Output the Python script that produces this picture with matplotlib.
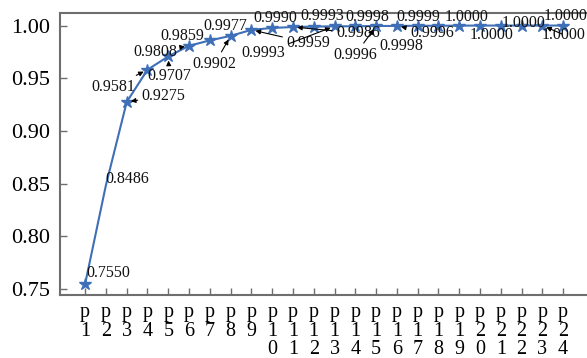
import numpy as np
import matplotlib
matplotlib.use('Agg')
import matplotlib.pyplot as plt

plt.rcParams['font.family'] = 'Liberation Serif'

# series values for p1..p24
categories = ['p%d' % i for i in range(1, 25)]
values = [0.7550, 0.8486, 0.9275, 0.9581, 0.9707, 0.9808, 0.9859, 0.9902,
          0.9959, 0.9977, 0.9986, 0.9990, 0.9993, 0.9993, 0.9996, 0.9996,
          0.9998, 0.9998, 0.9999, 1.0000, 1.0000, 1.0000, 1.0000, 1.0000]
y_ticks = [0.75, 0.80, 0.85, 0.90, 0.95, 1.00]

# where each value label sits relative to its point (pixels), and whether it gets a pointer
label_offsets = [(23, 11), (21, 6), (37, 6), (-34, -17), (1, -20), (-34, -6),
                 (-28, 4), (-16, -28), (57, -13), (-47, 2), (65, -6), (-38, 9),
                 (-71, -27), (-33, 10), (-21, -29), (35, -7), (-50, 9), (-37, -20),
                 (-41, 9), (-13, 9), (-9, -9), (2, 3), (21, -9), (2, 10)]
label_arrows = [0, 0, 1, 1, 1, 1, 0, 1, 1, 0, 1, 0,
                1, 0, 1, 1, 0, 0, 0, 0, 0, 0, 1, 0]

blue = '#3f6fb7'
fig = plt.figure(figsize=(5.87, 3.58), dpi=100)
ax = fig.add_axes([60/587, 1 - 295/358, 526/587, 282/358])

x = np.arange(len(values))
ax.plot(x, values, color=blue, lw=1.5, marker='*', markersize=9,
        markerfacecolor=blue, markeredgecolor=blue,
        markevery=[i for i in range(len(values)) if i != 1])

for i, v in enumerate(values):
    props = None
    if label_arrows[i]:
        props = dict(arrowstyle='-|>', color='black', lw=0.8,
                     mutation_scale=7, shrinkA=1, shrinkB=3)
    ax.annotate('%.4f' % v, xy=(i, v), xytext=label_offsets[i],
                textcoords='offset pixels', ha='center', va='center',
                fontsize=11.5, color='#111111', arrowprops=props)

ax.set_xlim(-1.21, 24.1)
ax.set_ylim(0.7444, 1.0119)
ax.set_yticks(y_ticks)
ax.set_yticklabels(['%.2f' % t for t in y_ticks])
ax.set_xticks(x)
ax.set_xticklabels(['\n'.join(c) for c in categories], linespacing=0.95)

for s in ['left', 'top', 'bottom']:
    ax.spines[s].set_color('#6e6e6e')
    ax.spines[s].set_linewidth(1.5)
ax.spines['right'].set_visible(False)

ax.tick_params(axis='y', direction='in', length=5, width=1, color='#6e6e6e',
               labelsize=16, pad=7)
ax.tick_params(axis='x', direction='in', length=5, width=1, color='#6e6e6e',
               labelsize=14.5, pad=6)

fig.savefig('out.png', dpi=100)
